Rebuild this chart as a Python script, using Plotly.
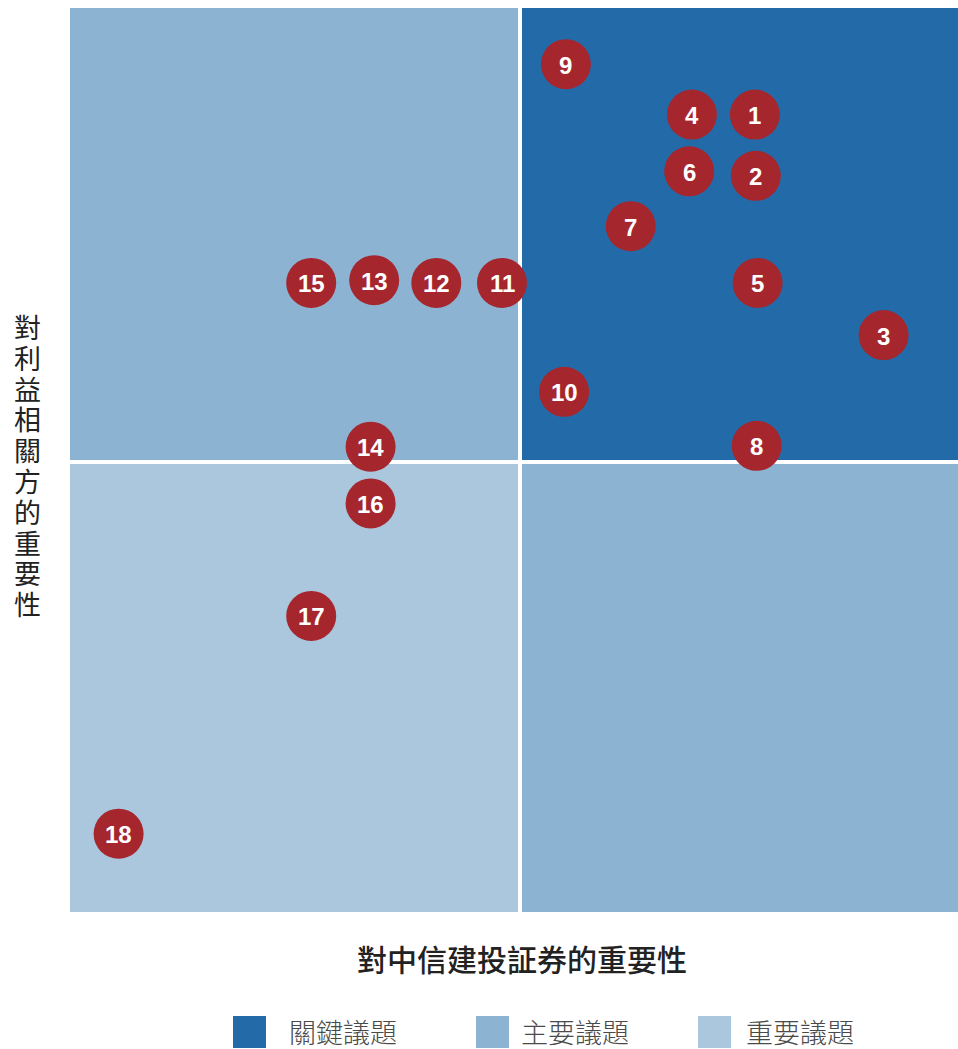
import plotly.graph_objects as go

# ---- data ----
labels = [str(i) for i in range(1, 19)]
x_vals = [7.61, 7.62, 9.04, 6.91, 7.64, 6.88, 6.23, 7.63, 5.51, 5.49,
          4.80, 4.07, 3.38, 3.34, 2.68, 3.34, 2.68, 0.54]
y_vals = [8.86, 8.18, 6.41, 8.86, 6.99, 8.23, 7.62, 5.18, 9.42, 5.78,
          6.99, 6.99, 7.02, 5.17, 6.99, 4.54, 3.29, 0.87]
x_title = "對中信建投証券的重要性"
y_title = "對利益相關方的重要性"
legend_names = ["關鍵議題", "主要議題", "重要議題"]
legend_colors = ["#236BA8", "#8DB3D3", "#ABC7DD"]

X_MID, Y_MID = 5, 5
X_MAX, Y_MAX = 888 / 90, 904 / 90

C_DARK, C_MID, C_LIGHT = legend_colors
RED = "#A5262D"
CJK = "Noto Sans CJK TC"

fig = go.Figure()
fig.add_trace(go.Scatter(
    x=x_vals, y=y_vals, mode="markers",
    marker=dict(size=50, color=RED, line=dict(width=0)),
    cliponaxis=False, hoverinfo="skip", showlegend=False,
))

shapes = [
    dict(type="rect", xref="x", yref="y", x0=0, x1=X_MID, y0=Y_MID, y1=Y_MAX,
         fillcolor=C_MID, line=dict(width=0), layer="below"),
    dict(type="rect", xref="x", yref="y", x0=X_MID, x1=X_MAX, y0=Y_MID, y1=Y_MAX,
         fillcolor=C_DARK, line=dict(width=0), layer="below"),
    dict(type="rect", xref="x", yref="y", x0=0, x1=X_MID, y0=0, y1=Y_MID,
         fillcolor=C_LIGHT, line=dict(width=0), layer="below"),
    dict(type="rect", xref="x", yref="y", x0=X_MID, x1=X_MAX, y0=0, y1=Y_MID,
         fillcolor=C_MID, line=dict(width=0), layer="below"),
    dict(type="line", xref="x", yref="y", x0=X_MID, x1=X_MID, y0=0, y1=Y_MAX,
         line=dict(color="white", width=4), layer="below"),
    dict(type="line", xref="x", yref="y", x0=0, x1=X_MAX, y0=Y_MID, y1=Y_MID,
         line=dict(color="white", width=4), layer="below"),
]

annotations = []
# point labels
for lab, xv, yv in zip(labels, x_vals, y_vals):
    annotations.append(dict(
        text=lab, x=xv, y=yv, xref="x", yref="y", showarrow=False,
        xanchor="center", yanchor="middle", yshift=-1,
        font=dict(family="Liberation Sans, Arial", size=24, color="white", weight="bold"),
    ))
# x title
annotations.append(dict(
    text=x_title, xref="paper", yref="paper", x=(522 - 70) / 888, y=(912 - 958) / 904,
    xanchor="center", yanchor="middle", showarrow=False,
    font=dict(family=CJK, size=30, color="#222222", weight=500),
))
# y title, stacked vertically one character per line
for i, ch in enumerate(y_title):
    py = 326 + i * 30.8
    annotations.append(dict(
        text=ch, xref="paper", yref="paper", x=(27 - 70) / 888, y=(912 - py) / 904,
        xanchor="center", yanchor="middle", showarrow=False, height=30,
        font=dict(family=CJK, size=27, color="#222222"),
    ))

# legend
sq_x = [233, 476, 698]
tx_x = [287, 519, 744]
for name, col, sx, tx in zip(legend_names, legend_colors, sq_x, tx_x):
    shapes.append(dict(type="rect", xref="paper", yref="paper",
                       x0=(sx - 70) / 888, x1=(sx + 33 - 70) / 888,
                       y0=(912 - 1048) / 904, y1=(912 - 1016) / 904,
                       fillcolor=col, line=dict(width=0)))
    annotations.append(dict(
        text=name, xref="paper", yref="paper", x=(tx - 70) / 888, y=(912 - 1031) / 904,
        xanchor="left", yanchor="middle", showarrow=False, height=32,
        font=dict(family=CJK, size=27, color="#4a4a4a", weight=300),
    ))

fig.update_layout(
    width=958, height=1049,
    margin=dict(l=70, r=0, t=8, b=137),
    paper_bgcolor="white", plot_bgcolor="white",
    shapes=shapes, annotations=annotations,
    xaxis=dict(range=[0, X_MAX], visible=False, showgrid=False, zeroline=False, fixedrange=True),
    yaxis=dict(range=[0, Y_MAX], visible=False, showgrid=False, zeroline=False, fixedrange=True),
    showlegend=False,
)

fig.write_html("out.html", config={"displayModeBar": False},
               post_script="document.body.style.margin='0px';document.body.style.overflow='hidden';")
